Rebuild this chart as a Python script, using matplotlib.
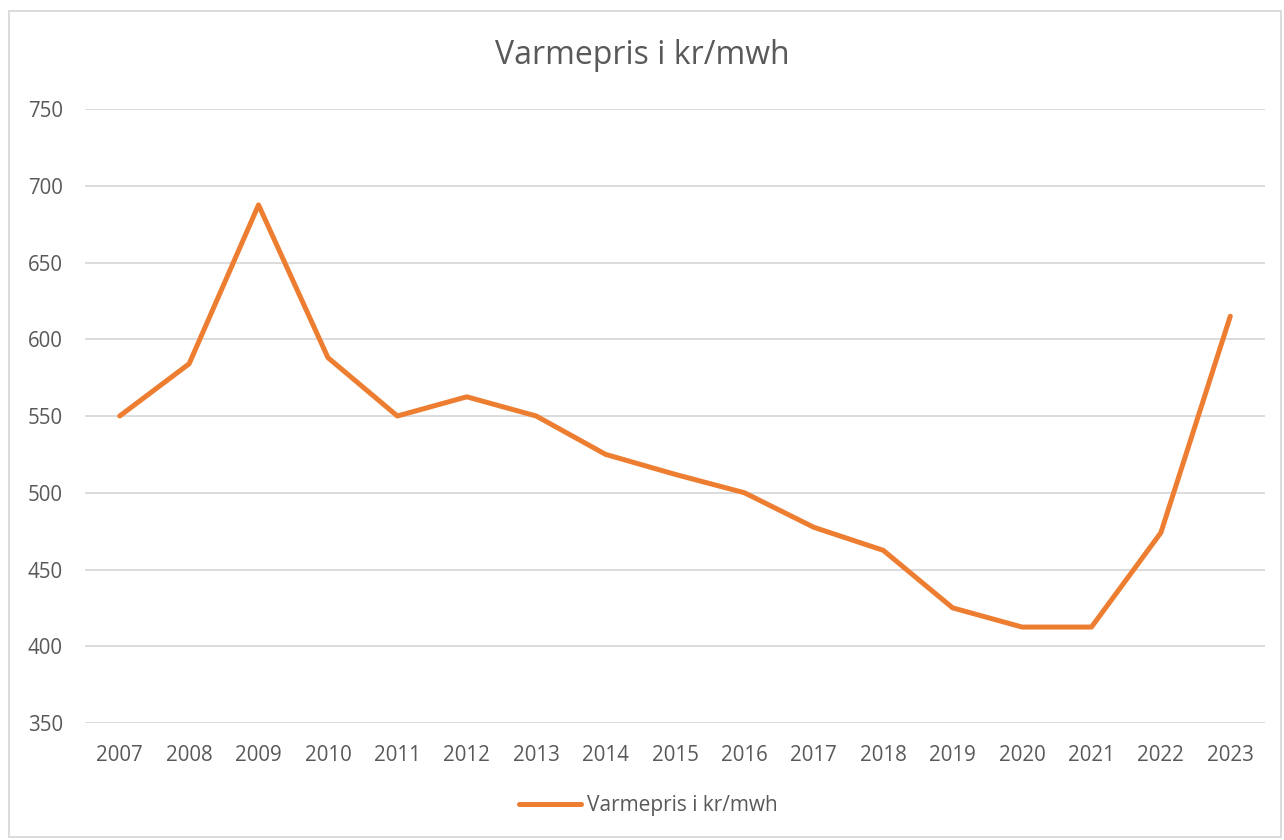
import matplotlib
matplotlib.use('Agg')
import matplotlib.pyplot as plt
from matplotlib.patches import Rectangle

# data
years = [str(y) for y in range(2007, 2024)]
prices = [550, 584, 687.5, 588, 550, 562.5, 550, 525, 512, 500,
          477.5, 462.5, 425, 412.5, 412.5, 474, 615]
series_name = 'Varmepris i kr/mwh'

plt.rcParams['font.family'] = ['Open Sans', 'DejaVu Sans']
txt = '#595959'

fig = plt.figure(figsize=(12.84, 8.4), dpi=100)
ax = fig.add_axes([85/1284, 1-723/840, 1180/1284, 614/840])

x = list(range(len(years)))
ax.plot(x, prices, color='#ED7D31', lw=3.6, solid_capstyle='round',
        solid_joinstyle='round', label=series_name, zorder=3)

ax.set_xlim(-0.5, len(years)-0.5)
ax.set_ylim(350, 750)
ax.set_yticks(range(350, 751, 50))
ax.set_xticks(x)
ax.set_xticklabels(years)
ax.grid(axis='y', color='#D9D9D9', lw=1.3)
for s in ax.spines.values():
    s.set_visible(False)
ax.tick_params(length=0, labelsize=14.8, colors=txt)
ax.tick_params(axis='x', pad=16)
ax.tick_params(axis='y', pad=16)

fig.text(0.5, 1-55/840, series_name, ha='center', va='center',
         fontsize=23, color=txt)

leg = fig.legend(loc='center', bbox_to_anchor=(0.505, 1-806/840), frameon=False,
                 fontsize=15, handlelength=3.0, handletextpad=0.3)
for t in leg.get_texts():
    t.set_color(txt)

fig.patches.append(Rectangle((9/1284, 3/840), 1272/1284, 826/840,
                             transform=fig.transFigure, fill=False,
                             edgecolor='#D9D9D9', lw=1.3))

fig.savefig('out.png', dpi=100)
